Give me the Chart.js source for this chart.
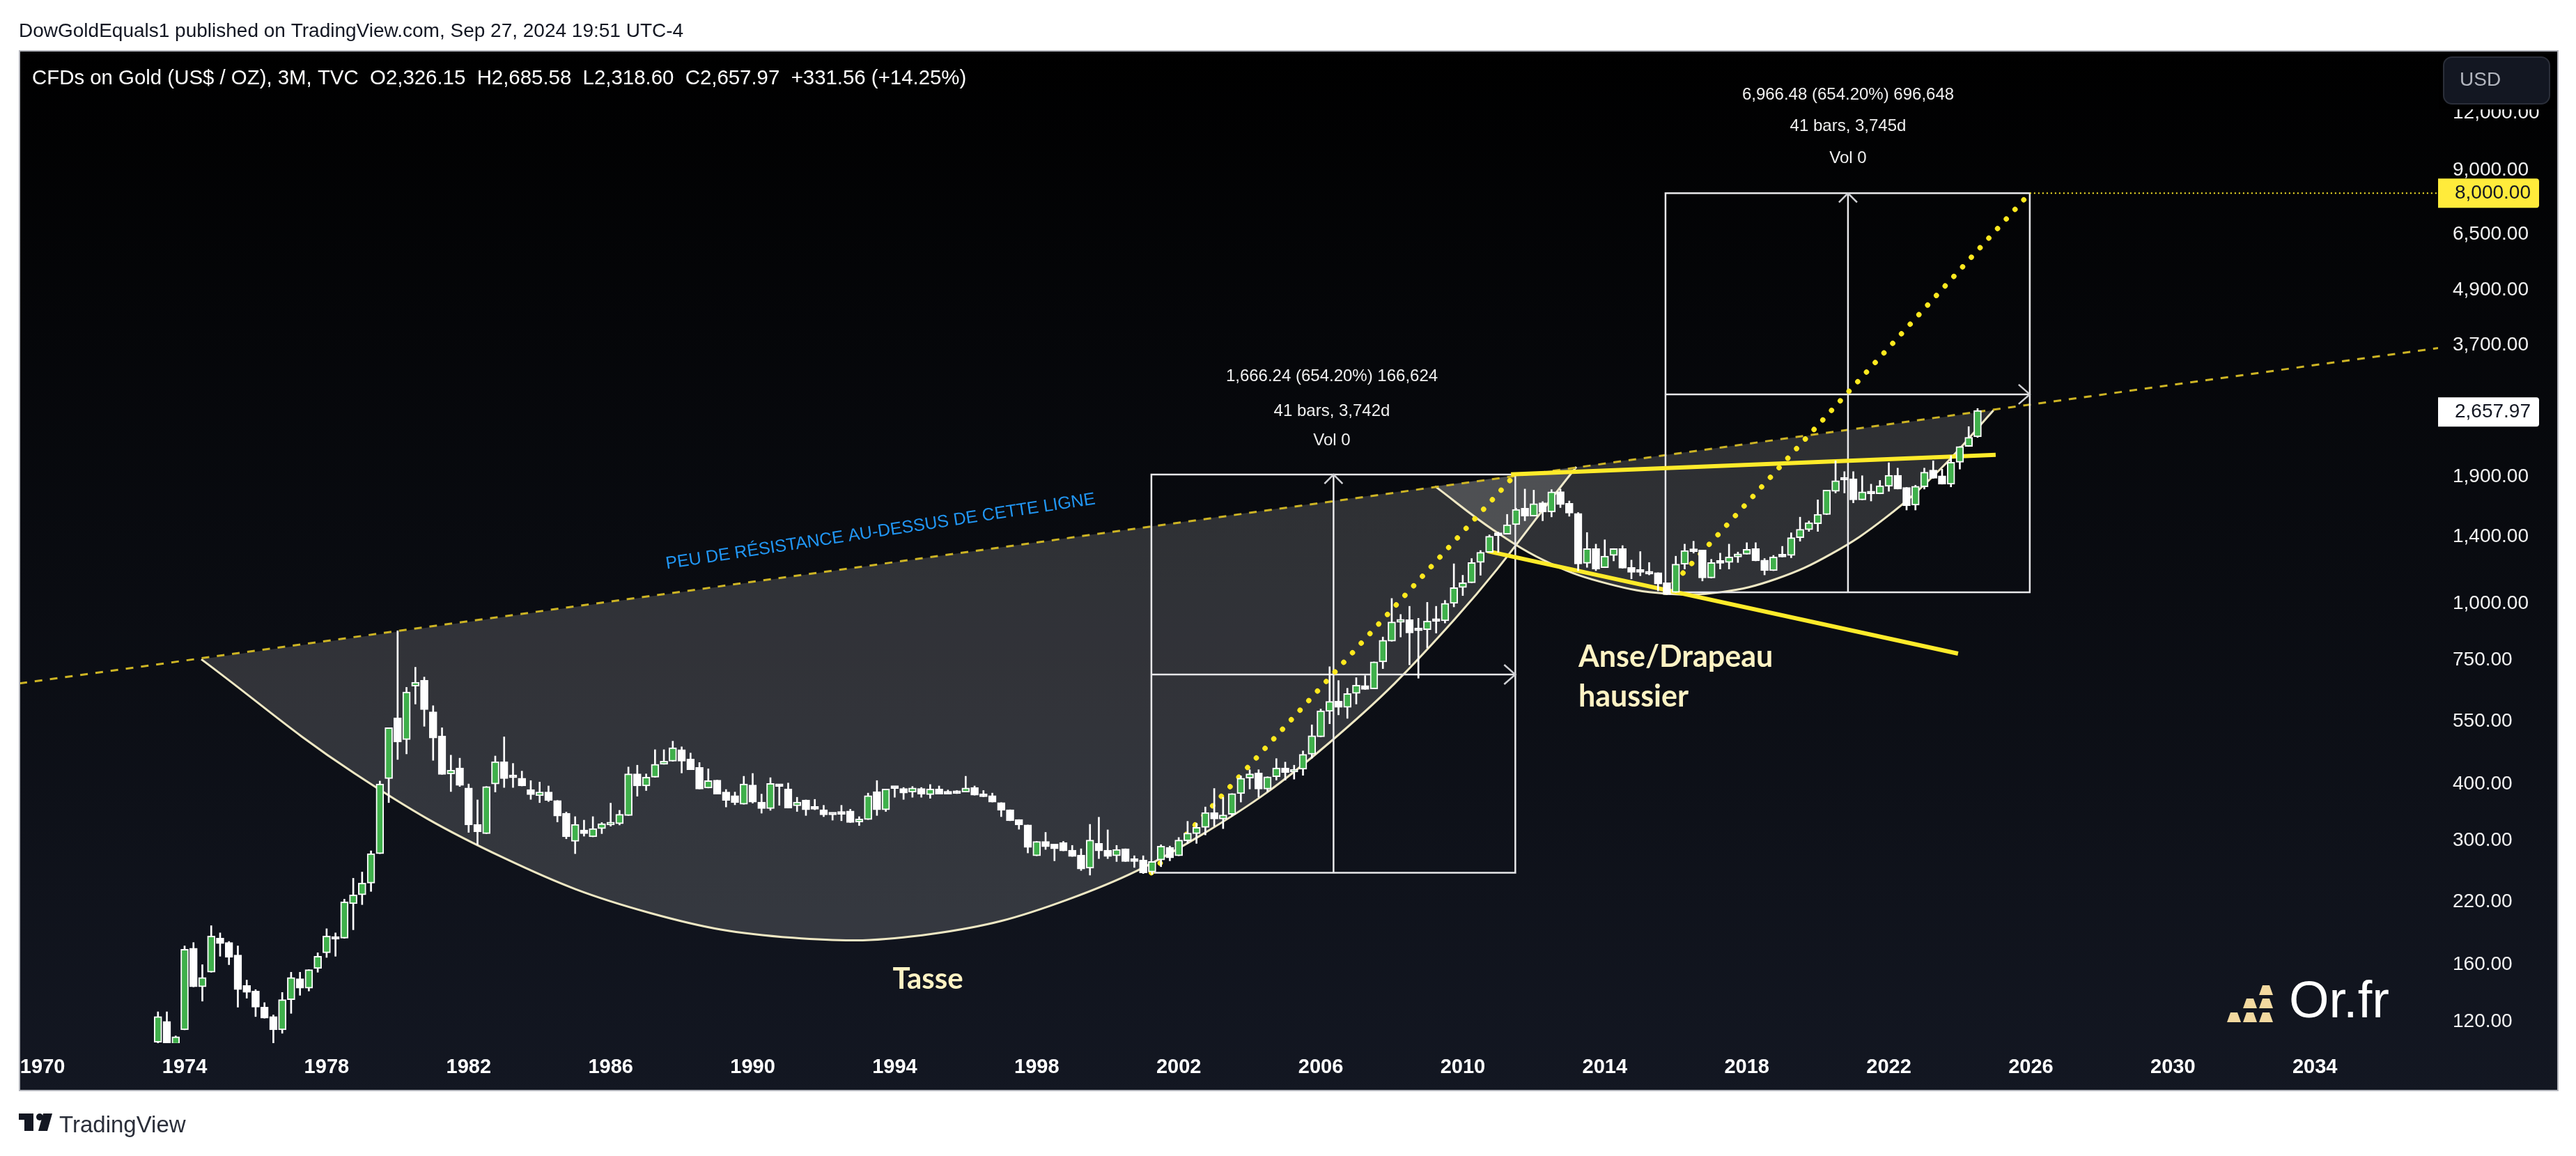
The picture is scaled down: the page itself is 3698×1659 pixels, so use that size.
<!DOCTYPE html>
<html>
<head>
<meta charset="utf-8">
<style>html,body{margin:0;padding:0;background:#fff}canvas{display:block}</style>
<script src="https://cdn.jsdelivr.net/npm/chart.js@4"></script>
</head>
<body>
<canvas id="c" width="3698" height="1659"></canvas>
<script>
const opens = [
108,120,107,115,174,143,154,183,179,168,
144,140,129,123,115,134,149,142,157,170,
184,183,218,228,242,281,411,559,501,657,
677,577,510,421,434,392,326,311,400,448,
415,412,389,377,384,368,345,299,317,306,
319,325,327,341,421,396,414,442,449,476,
454,435,392,408,384,377,361,398,365,353,
397,390,358,369,353,351,343,346,349,330,
334,385,351,392,391,384,391,379,390,382,
384,384,393,379,377,364,351,334,325,278,
299,295,297,286,279,261,296,286,278,288,
272,272,256,272,290,278,300,311,321,346,
335,343,381,412,423,390,415,434,425,431,
465,508,578,609,590,633,659,648,743,825,
908,920,876,875,920,915,1000,1083,1110,1230,
1295,1420,1420,1490,1620,1556,1665,1590,1762,1660,
1578,1225,1320,1198,1275,1320,1200,1175,1172,1168,
1110,1057,1220,1310,1310,1137,1232,1230,1265,1283,
1320,1245,1180,1277,1275,1395,1453,1497,1568,1765,
1885,1880,1690,1760,1742,1810,1914,1800,1645,1805,
1965,1910,1830,2045,2215,2326.15];
const highs = [
126,126,111.5,176,179,160,195,188,180,176,
148,141,132,124,139,154,154,156,170,192,
188,223,248,256,285,406,532,870,653,723,
688,595,532,463,456,400,369,395,461,508,
444,427,407,404,396,368,347,339,333,339,
329,363,350,436,440,421,476,476,497,483,
468,446,432,408,389,384,416,422,380,413,
399,402,374,369,370,359,343,359,352,339,
382,407,390,392,393,395,393,399,396,388,
387,416,396,387,382,364,351,334,325,299,
313,295,299,293,288,326,338,317,293,288,
278,278,270,294,292,305,331,328,356,391,
374,381,417,430,430,415,455,447,440,473,
540,585,725,676,650,686,693,743,843,1025,
945,985,927,1005,985,1015,1222,1153,1255,1307,
1415,1435,1570,1620,1785,1775,1675,1780,1785,1680,
1585,1432,1350,1380,1320,1340,1245,1300,1230,1168,
1110,1270,1350,1370,1310,1250,1290,1350,1297,1360,
1360,1255,1275,1335,1430,1548,1518,1690,1775,2060,
1950,1950,1910,1830,1865,2040,1985,1800,1820,1985,
2060,1975,2115,2215,2450,2685.58];
const lows = [
104,104,104,115,143,133,154,167,160,129,
135,123,122,107,113,125,137,140,154,166,
167,183,191,217,232,281,364,453,466,600,
536,451,420,385,395,313,294,311,384,393,
393,396,370,364,366,330,303,281,307,306,
311,323,325,341,376,387,414,442,449,423,
430,390,392,380,356,360,361,363,345,350,
359,354,348,341,351,339,333,332,329,324,
334,341,348,374,370,374,374,372,380,380,
381,384,378,375,365,339,332,318,282,278,
287,271,285,277,258,252,274,274,270,270,
262,254,253,263,271,278,296,296,309,323,
319,340,365,390,374,385,408,408,410,418,
456,508,543,568,558,600,646,648,718,825,
843,732,684,797,860,905,982,1040,1110,1153,
1295,1295,1420,1490,1520,1556,1520,1550,1625,1555,
1180,1200,1180,1198,1240,1195,1132,1150,1155,1065,
1045,1057,1190,1290,1120,1137,1190,1190,1230,1283,
1240,1155,1180,1265,1260,1370,1440,1440,1568,1750,
1750,1665,1690,1680,1742,1765,1785,1605,1605,1785,
1885,1830,1805,1975,2215,2318.6];
const closes = [
123,107,111,173,143,150,185,178,166,141,
139,129,122,115,134,150,142,156,167,185,
182,220,228,242,281,400,532,495,638,670,
583,505,420,429,397,325,314,395,448,411,
413,396,379,384,368,340,306,326,311,319,
327,329,343,421,396,414,442,449,481,449,
430,390,407,380,368,364,400,365,353,401,
395,354,365,351,352,342,342,343,329,335,
377,351,390,391,382,392,380,390,380,380,
381,392,378,375,365,350,332,325,290,299,
291,288,285,277,260,301,285,277,287,270,
270,255,270,292,275,301,312,321,346,335,
342,381,412,421,390,415,434,424,430,465,
511,580,608,590,633,660,646,743,829,910,
922,860,870,914,912,1000,1083,1110,1230,1295,
1405,1410,1490,1610,1556,1658,1590,1760,1650,1580,
1221,1320,1190,1270,1320,1195,1170,1170,1160,1103,
1045,1220,1307,1300,1137,1230,1225,1265,1285,1315,
1240,1180,1265,1265,1395,1456,1505,1570,1775,1862,
1868,1690,1760,1742,1815,1914,1785,1640,1810,1945,
1885,1830,2045,2215,2320,2657.97];
const firstQuarter = 1973.25;
const quarters = opens.map((_, i) => firstQuarter + i * 0.25);

const xTickYears = [1970,1974,1978,1982,1986,1990,1994,1998,2002,2006,2010,2014,2018,2022,2026,2030,2034];
const yTickPrices = [120,160,220,300,400,550,750,1000,1400,1900,3700,4900,6500,9000,12000];
const targetPrice = 8000;
const lastPrice = 2657.97;

const resistanceLine = [[1969.35,666],[2037.47,3650]];
const cupArc = [[1974.47,753],[1978.79,422],[1982.99,275],[1987.11,208],[1991.13,183.4],[1995.05,187],[1998.88,222.7],[2002.61,308],[2006.24,493],[2009.77,922],[2013.2,1998]];
const cupChord = [[1974.47,753],[2013.2,1998]];
const handleArc = [[2009.22,1810],[2010.87,1449],[2012.48,1223],[2014.10,1104],[2015.69,1051],[2017.26,1058],[2018.83,1132],[2020.38,1285],[2021.91,1544],[2023.44,1971],[2024.95,2661]];
const handleChord = [[2009.22,1810],[2024.95,2661]];
const flagUpper = [[2011.36,1923],[2025.01,2123]];
const flagLower = [[2010.69,1303],[2023.95,775]];
const box1 = {left:2001.23,right:2011.48,mid:2006.36,top:1921,bottom:255,center:697};
const box2 = {left:2015.71,right:2025.97,mid:2020.85,top:8000,bottom:1058,center:2886};

const toPts = a => a.map(p => ({x:p[0], y:p[1]}));
const lineDs = (pts, color, width, order, extra) => Object.assign({
  type:'line', data:toPts(pts), borderColor:color, borderWidth:width, pointRadius:0,
  backgroundColor:'transparent', fill:false, tension:0, order
}, extra || {});
const boxDatasets = b => [
  lineDs([[b.left,b.bottom],[b.right,b.bottom],[b.right,b.top],[b.left,b.top],[b.left,b.bottom]],'#e8e8ea',2.5,6),
  lineDs([[b.left,b.center],[b.right,b.center]],'#e8e8ea',2.5,6),
  lineDs([[b.mid,b.bottom],[b.mid,b.top]],'#e8e8ea',2.5,6),
  lineDs([[b.left,b.bottom],[b.right,b.top]],'#ffe81e',7.5,5,{borderDash:[0.1,18.5],borderCapStyle:'round'})
];

const GOLD_DASH = '#cdb424', YELLOW = '#ffeb2a', ARC = '#efe8c4';
const LEFT=28, RIGHT=3672, TOP=73, BOTTOM=1565;

const text = (ctx,str,x,y,font,color,align) => {
  ctx.font=font; ctx.fillStyle=color; ctx.textAlign=align||'left'; ctx.textBaseline='middle';
  ctx.fillText(str,x,y);
};
const money = v => v.toLocaleString('en-US',{minimumFractionDigits:2,maximumFractionDigits:2});

const decor = {
  id:'decor',
  beforeDraw(chart){
    const c=chart.ctx;
    c.save();
    c.fillStyle='#fff'; c.fillRect(0,0,3698,1659);
    const g=c.createLinearGradient(0,TOP,0,BOTTOM);
    g.addColorStop(0,'#000000'); g.addColorStop(1,'#131722');
    c.fillStyle=g; c.fillRect(LEFT,TOP,RIGHT-LEFT,BOTTOM-TOP);
    c.restore();
  },
  afterDatasetsDraw(chart){
    const c=chart.ctx, X=chart.scales.x, Y=chart.scales.y;
    c.save();
    c.strokeStyle='#cfd0d4'; c.lineWidth=2.5;
    [box1,box2].forEach(b=>{
      const mx=X.getPixelForValue(b.mid), ty=Y.getPixelForValue(b.top);
      const rx=X.getPixelForValue(b.right), cy=Y.getPixelForValue(b.center);
      c.beginPath(); c.moveTo(mx-13,ty+13); c.lineTo(mx,ty); c.lineTo(mx+13,ty+13); c.stroke();
      c.beginPath(); c.moveTo(rx-16,cy-14); c.lineTo(rx,cy); c.lineTo(rx-16,cy+14); c.stroke();
    });
    const ty=Y.getPixelForValue(targetPrice);
    c.strokeStyle=YELLOW; c.lineWidth=2; c.setLineDash([2,4]);
    c.beginPath(); c.moveTo(X.getPixelForValue(box2.right),ty); c.lineTo(X.right,ty); c.stroke();
    c.setLineDash([]);
    text(c,'1,666.24 (654.20%) 166,624',1912,540,'24px "Liberation Sans"','#f0f0f0','center');
    text(c,'41 bars, 3,742d',1912,590,'24px "Liberation Sans"','#f0f0f0','center');
    text(c,'Vol 0',1912,632,'24px "Liberation Sans"','#f0f0f0','center');
    text(c,'6,966.48 (654.20%) 696,648',2653,136,'24px "Liberation Sans"','#f0f0f0','center');
    text(c,'41 bars, 3,745d',2653,181,'24px "Liberation Sans"','#f0f0f0','center');
    text(c,'Vol 0',2653,227,'24px "Liberation Sans"','#f0f0f0','center');
    c.save();
    c.translate(1264,763); c.rotate(-8.6*Math.PI/180);
    text(c,'PEU DE RÉSISTANCE AU-DESSUS DE CETTE LIGNE',0,0,'25px "Liberation Sans"','#2196f3','center');
    c.restore();
    text(c,'Tasse',1332,1405,'bold 42px Lato','#fff3c4','center');
    text(c,'Anse/Drapeau',2266,943,'bold 43px Lato','#fff3c4');
    text(c,'haussier',2266,1000,'bold 43px Lato','#fff3c4');
    c.fillStyle='#f3d9a0';
    [[3243,1414],[3220,1433],[3243,1433],[3197,1453],[3220,1453],[3243,1453]].forEach(b=>{
      c.beginPath();
      c.moveTo(b[0]+5,b[1]); c.lineTo(b[0]+15,b[1]); c.lineTo(b[0]+20,b[1]+14); c.lineTo(b[0],b[1]+14);
      c.closePath(); c.fill();
    });
    text(c,'Or.fr',3286,1440,'74px "Liberation Sans"','#ffffff');
    c.restore();
  },
  afterDraw(chart){
    const c=chart.ctx, Y=chart.scales.y;
    c.save();
    c.fillStyle='#000000'; c.fillRect(3501,74,170,83);
    c.strokeStyle='#b4b6bd'; c.lineWidth=2;
    c.strokeRect(LEFT,TOP,RIGHT-LEFT,BOTTOM-TOP);
    c.fillStyle='#131722'; c.strokeStyle='#2a2e39'; c.lineWidth=2;
    c.beginPath(); c.roundRect(3508,82,152,67,12); c.fill(); c.stroke();
    text(c,'USD',3531,115,'28px "Liberation Sans"','#b2b5be');
    const ty=Y.getPixelForValue(targetPrice), ly=Y.getPixelForValue(lastPrice)+2;
    c.fillStyle='#ffeb3b'; c.beginPath(); c.roundRect(3500,ty-21,145,42,[0,4,4,0]); c.fill();
    text(c,money(targetPrice),3524,ty,'28px "Liberation Sans"','#131722');
    c.fillStyle='#ffffff'; c.beginPath(); c.roundRect(3500,ly-21,145,42,[0,4,4,0]); c.fill();
    text(c,money(lastPrice),3524,ly,'28px "Liberation Sans"','#131722');
    text(c,'DowGoldEquals1 published on TradingView.com, Sep 27, 2024 19:51 UTC-4',27,45,'28px "Liberation Sans"','#131722');
    text(c,'CFDs on Gold (US$ / OZ), 3M, TVC  O2,326.15  H2,685.58  L2,318.60  C2,657.97  +331.56 (+14.25%)',46,113,'29.4px "Liberation Sans"','#ffffff');
    c.fillStyle='#131722';
    c.fillRect(27,1598,21,9); c.fillRect(35,1607,13,16);
    c.beginPath(); c.arc(57,1603,5,0,Math.PI*2); c.fill();
    c.beginPath(); c.moveTo(62,1598); c.lineTo(75,1598); c.lineTo(68,1623); c.lineTo(55,1623); c.closePath(); c.fill();
    text(c,'TradingView',85,1616,'33px "Liberation Sans"','#2a2e39');
    c.restore();
  }
};

new Chart(document.getElementById('c'),{
  type:'bar',
  data:{datasets:[
    lineDs(cupArc,ARC,3,10,{fill:'+1',backgroundColor:'rgba(255,255,255,0.155)',tension:0.4}),
    lineDs(cupChord,'transparent',0,10),
    lineDs(handleArc,ARC,3,9,{fill:'+1',backgroundColor:'rgba(255,255,255,0.155)',tension:0.4}),
    lineDs(handleChord,'transparent',0,9),
    lineDs(resistanceLine,GOLD_DASH,3,8,{borderDash:[11,11]}),
    ...boxDatasets(box1),
    ...boxDatasets(box2),
    lineDs(flagUpper,YELLOW,6,4),
    lineDs(flagLower,YELLOW,6,4),
    {type:'bar',grouped:false,order:2,barThickness:2,backgroundColor:'#ffffff',borderWidth:0,
      data:quarters.map((q,i)=>({x:q,y:[lows[i],highs[i]]}))},
    {type:'bar',grouped:false,order:1,barThickness:11,minBarLength:4,borderWidth:2,borderColor:'#ffffff',borderSkipped:false,
      backgroundColor:quarters.map((q,i)=>closes[i]>opens[i]?'#3fb04b':'#ffffff'),
      data:quarters.map((q,i)=>({x:q,y:[opens[i],closes[i]]}))}
  ]},
  options:{
    responsive:false, animation:false, devicePixelRatio:1,
    layout:{padding:{left:28,top:73,right:26,bottom:94}},
    plugins:{legend:{display:false},tooltip:{enabled:false},title:{display:false}},
    scales:{
      x:{type:'linear',offset:false,min:1969.35,max:2037.47,
        grid:{display:false,drawTicks:false},border:{display:false},
        afterBuildTicks:a=>{a.ticks=xTickYears.map(v=>({value:v}));},
        afterFit:a=>{a.height=68;},
        ticks:{autoSkip:false,maxRotation:0,minRotation:0,padding:18,color:'#ffffff',
          font:{family:'"Liberation Sans"',size:29,weight:'bold'},callback:v=>String(v)}},
      y:{type:'logarithmic',position:'right',min:107.5,max:16470,
        grid:{display:false,drawTicks:false},border:{display:false},
        afterBuildTicks:a=>{a.ticks=yTickPrices.map(v=>({value:v}));},
        afterFit:a=>{a.width=172;},
        ticks:{autoSkip:false,padding:21,color:'#f2f2f2',
          font:{family:'"Liberation Sans"',size:28},callback:v=>money(Number(v))}}
    }
  },
  plugins:[decor]
});
</script>
</body>
</html>
